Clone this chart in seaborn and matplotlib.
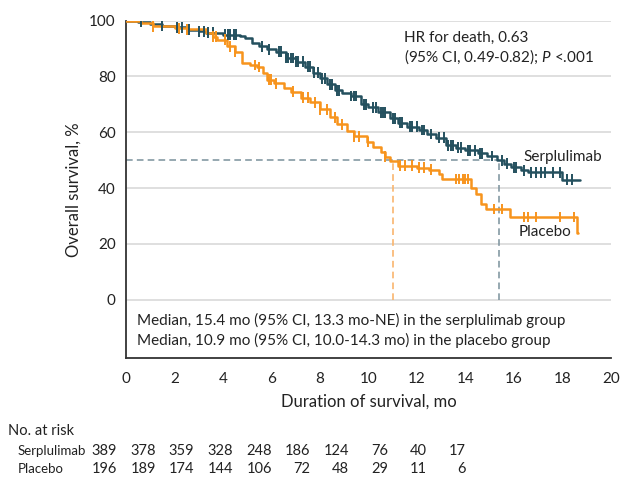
import numpy as np
import pandas as pd
import matplotlib
matplotlib.use('Agg')
import matplotlib.pyplot as plt
import seaborn as sns

# Kaplan-Meier step points (time in months, survival in %)
serp_time = [0, 0.5, 1.0, 1.5, 2.0, 2.5, 3.0, 3.3, 4.0, 4.7, 4.9, 5.2, 5.5, 5.8, 6.2, 6.6,
             7.0, 7.4, 7.7, 8.0, 8.3, 8.6, 8.9, 9.3, 9.7, 10.0, 10.4, 10.9, 11.2, 11.6,
             12.1, 12.4, 12.8, 13.2, 13.6, 14.0, 14.5, 14.9, 15.3, 15.6, 15.9, 16.3, 16.6, 18.0, 18.74]
serp_surv = [100, 99.6, 98.8, 98.2, 97.6, 96.8, 96.2, 95.7, 95.0, 94.5, 93.7, 92.0, 90.8, 89.7, 88.9, 86.6,
             85.3, 83.5, 81.3, 79.4, 77.2, 75.0, 74.0, 73.0, 70.0, 69.0, 67.2, 65.0, 63.5, 62.0,
             60.8, 59.4, 58.0, 55.4, 54.5, 53.5, 52.5, 51.5, 50.0, 48.8, 47.4, 46.4, 45.6, 43.0, 43.0]

plac_time = [0, 0.6, 1.1, 2.0, 2.5, 3.3, 3.6, 3.75, 4.15, 4.5, 4.8, 5.1, 5.4, 5.65, 5.8, 6.1,
             6.5, 6.8, 7.2, 7.6, 8.0, 8.4, 8.7, 9.1, 9.4, 9.95, 10.2, 10.5, 10.7, 10.9, 11.2,
             12.0, 12.5, 12.9, 13.05, 14.25, 14.45, 14.65, 14.85, 15.85, 18.6, 18.65]
plac_surv = [100, 99.0, 97.9, 97.3, 96.9, 95.5, 94.3, 93.2, 90.8, 88.8, 84.8, 84.1, 83.4, 81.2, 78.8, 77.6,
             75.8, 74.6, 72.4, 70.8, 68.2, 65.3, 62.8, 60.3, 58.5, 56.5, 54.8, 52.8, 51.3, 49.8, 48.0,
             47.3, 46.6, 45.0, 43.3, 40.2, 37.8, 34.3, 32.5, 29.7, 23.8, 23.8]

# censored observations (months)
serp_cens = [0.6, 1.5, 2.1, 2.3, 2.6, 3.0, 3.2, 3.4, 3.6, 4.1, 4.2, 4.3, 4.45, 4.55, 5.6, 5.9,
             6.3, 6.4, 6.6, 6.7, 6.8, 6.9, 7.0, 7.1, 7.3, 7.5, 7.6, 7.75, 7.9, 8.1, 8.2, 8.4,
             8.5, 8.7, 8.8, 9.3, 9.4, 9.5, 9.8, 9.9, 10.2, 10.3, 10.5, 10.6, 10.7, 11.0, 11.1,
             11.3, 11.4, 11.7, 11.8, 12.0, 12.2, 12.3, 12.6, 12.9, 13.1, 13.3, 13.4, 13.5, 13.7,
             13.8, 14.1, 14.2, 14.4, 14.6, 14.7, 15.1, 15.5, 15.7, 16.0, 16.1, 16.4, 16.7, 16.9,
             17.1, 17.3, 17.6, 17.9, 18.2, 18.4]
plac_cens = [1.1, 2.2, 2.5, 3.6, 3.7, 4.1, 4.3, 4.5, 5.3, 5.5, 5.9, 6.0, 6.2, 6.9, 7.3, 7.5,
             7.8, 8.0, 8.3, 8.6, 8.9, 9.4, 9.6, 10.0, 10.7, 11.3, 11.5, 11.8, 12.1, 12.3, 12.6,
             13.6, 13.75, 13.9, 14.0, 14.1, 15.2, 15.5, 16.4, 16.6, 16.9, 17.9, 18.5]

medians = {'Serplulimab': 15.4, 'Placebo': 11.0}

risk_times = [0, 2, 4, 6, 8, 10, 12, 14, 16, 18]
serp_risk = [389, 378, 359, 328, 248, 186, 124, 76, 40, 17]
plac_risk = [196, 189, 174, 144, 106, 72, 48, 29, 11, 6]

teal = '#24505e'
orange = '#f7941d'
txt = '#222222'

sns.set_style('white')
plt.rcParams['font.family'] = ['Lato', 'DejaVu Sans']
plt.rcParams['mathtext.fontset'] = 'custom'
plt.rcParams['mathtext.it'] = 'Lato:italic'
plt.rcParams['mathtext.rm'] = 'Lato'

fig = plt.figure(figsize=(6.43, 4.91), dpi=100)
ax = fig.add_axes([0.196, 0.270, 0.754, 0.688])


def step_at(times, surv, t):
    idx = np.searchsorted(times, t, side='right') - 1
    return np.asarray(surv)[idx]


curves = pd.concat([
    pd.DataFrame({'time': serp_time, 'surv': serp_surv, 'arm': 'Serplulimab'}),
    pd.DataFrame({'time': plac_time, 'surv': plac_surv, 'arm': 'Placebo'}),
])
cens = pd.concat([
    pd.DataFrame({'time': serp_cens, 'surv': step_at(serp_time, serp_surv, serp_cens), 'arm': 'Serplulimab'}),
    pd.DataFrame({'time': plac_cens, 'surv': step_at(plac_time, plac_surv, plac_cens), 'arm': 'Placebo'}),
])
pal = {'Serplulimab': teal, 'Placebo': orange}

# grid
for g in [0, 20, 40, 60, 80, 100]:
    ax.axhline(g, color='#d9d9d9', lw=1.2, zorder=0)

# median reference lines
ax.plot([0, medians['Serplulimab']], [50, 50], ls=(0, (4, 2.5)), color='#8499a3', lw=1.2, zorder=1)
ax.plot([medians['Serplulimab']] * 2, [0, 50], ls=(0, (4, 2.5)), color='#8499a3', lw=1.2, zorder=1)
ax.plot([medians['Placebo']] * 2, [0, 49], ls=(0, (4, 2.5)), color='#f9b56e', lw=1.2, zorder=1)

sns.lineplot(data=curves, x='time', y='surv', hue='arm', palette=pal, drawstyle='steps-post',
             lw=1.8, legend=False, ax=ax, zorder=3, sort=False, estimator=None)
sns.scatterplot(data=cens, x='time', y='surv', hue='arm', palette=pal, marker='|', s=60,
                linewidth=1.4, legend=False, ax=ax, zorder=4)

ax.set_xlim(0, 20)
ax.set_ylim(-21, 100)
ax.set_xticks(range(0, 21, 2))
ax.set_yticks(range(0, 101, 20))
ax.tick_params(axis='both', labelsize=11, color='#333333', labelcolor=txt, direction='out')
ax.tick_params(axis='x', length=6, width=1.3)
ax.tick_params(axis='y', length=4, width=1)
for s in ['top', 'right']:
    ax.spines[s].set_visible(False)
for s in ['left', 'bottom']:
    ax.spines[s].set_color('#333333')
    ax.spines[s].set_linewidth(1.3)
ax.set_xlabel('Duration of survival, mo', fontsize=12, labelpad=6, color=txt)
ax.set_ylabel('Overall survival, %', fontsize=12, labelpad=5, color=txt)

ax.text(11.45, 93.8, 'HR for death, 0.63', fontsize=11, va='center', color=txt)
ax.text(11.45, 87.2, '(95% CI, 0.49-0.82); $\\it{P}$ <.001', fontsize=11, va='center', color=txt)
ax.text(16.4, 51.3, 'Serplulimab', fontsize=11, va='center', color=txt)
ax.text(16.2, 24.3, 'Placebo', fontsize=11, va='center', color=txt)
ax.text(0.45, -7.3, 'Median, 15.4 mo (95% CI, 13.3 mo-NE) in the serplulimab group',
        fontsize=11, va='center', color=txt)
ax.text(0.45, -14.4, 'Median, 10.9 mo (95% CI, 10.0-14.3 mo) in the placebo group',
        fontsize=11, va='center', color=txt)

# number at risk table
W, H = 643, 491
fig.text(8 / W, 1 - 431 / H, 'No. at risk', fontsize=10.5, va='center', color=txt)
fig.text(18 / W, 1 - 451 / H, 'Serplulimab', fontsize=9.5, va='center', color=txt)
fig.text(18 / W, 1 - 469 / H, 'Placebo', fontsize=9.5, va='center', color=txt)
for i, t in enumerate(risk_times):
    xr = (117 + 38.7 * i) / W
    fig.text(xr, 1 - 451 / H, str(serp_risk[i]), fontsize=10.5, va='center', ha='right', color=txt)
    fig.text(xr, 1 - 469 / H, str(plac_risk[i]), fontsize=10.5, va='center', ha='right', color=txt)

fig.savefig('out.png', dpi=100)
